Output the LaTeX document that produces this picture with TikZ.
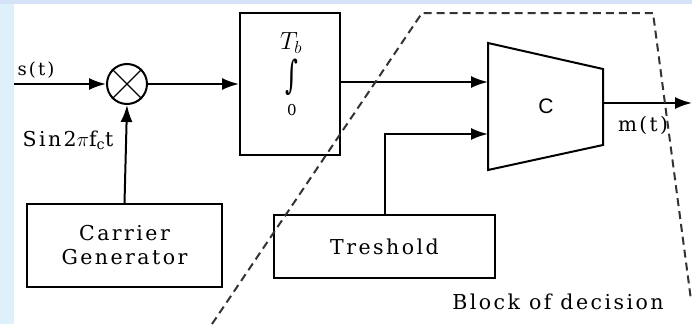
\documentclass[tikz,border=0pt]{standalone}
\usepackage{fontspec}
\setmainfont[LetterSpace=12]{DejaVu Serif}
\newfontfamily\arialfont{Liberation Sans}
\newfontfamily\intfont{DejaVu Serif}
\usetikzlibrary{arrows.meta}
\definecolor{edgeblue}{RGB}{222,240,250}
\definecolor{topblue}{RGB}{214,226,248}

\begin{document}
\begin{tikzpicture}[
    x=1pt, y=-1pt,
    every node/.style={font=\fontsize{20.5}{24}\selectfont},
    block/.style={draw, line width=2pt, inner sep=0pt, align=center},
    mixer/.style={circle, draw, line width=2pt, minimum size=40pt, inner sep=0pt},
    wire/.style={line width=2pt, -{Latex[length=17pt, width=12pt]}},
    plain/.style={line width=2pt},
    border/.style={line width=2pt, dash pattern=on 8pt off 5pt, black!80},
    lbl/.style={inner sep=0pt},
]
\useasboundingbox (0,0) rectangle (692,324);
% faint page tint
\fill[edgeblue] (0,0) rectangle (14,324);
\fill[topblue] (0,0) rectangle (692,4);

% blocks
\node[mixer] (mix) at (127,84) {};
\draw[line width=1.4pt] (mix.north west) -- (mix.south east)
    (mix.north east) -- (mix.south west);
\node[block, minimum width=100pt, minimum height=142pt] (intg) at (290,84) {};
\node[lbl] (tb) at (291,43) {\fontsize{26}{28}\selectfont$T_b$};
\node[lbl] (isign) at (292,77) {\intfont\scalebox{1.2}[1.9]{∫}};
\node[lbl] (lowlim) at (292,110) {\fontsize{15}{18}\selectfont 0};
\node[block, minimum width=195pt, minimum height=83pt] (car) at (124.5,245.5)
    {Carrier\\Generator};
\node[block, minimum width=221pt, minimum height=63pt] (thr) at (384.5,246.5) {Treshold};

% comparator
\draw[plain] (488,43) -- (603,69) -- (603,145) -- (488,170) -- cycle;
\node[lbl] (cmp) at (546,106) {\arialfont\fontsize{21}{22}\selectfont C};
\coordinate (in1) at (488,82);
\coordinate (in2) at (488,134);
\coordinate (cout) at (603,103);
\coordinate (sig) at (14,84);
\coordinate (mout) at (692,103);

% connectors
\draw[wire] (sig) -- (mix.west);
\draw[wire] (mix.east) -- (intg.west);
\draw[wire] (car.north) -- (mix.south);
\draw[wire] (intg.east |- in1) -- (in1);
\draw[wire] (thr.north) |- (in2);
\draw[wire] (cout) -- (mout);

% labels
\node[lbl] (st) at (36,70) {\fontsize{18}{20}\selectfont s(t)};
\node[lbl] (sinl) at (68,140) {Sin2$\pi$f\textsubscript{c}t};
\node[lbl] (mt) at (643,125) {\fontsize{20}{22}\selectfont m(t)};
\node[lbl] (dec) at (558,302) {Block of decision};

% decision region
\draw[border] (212,324) -- (422,13) -- (653,13) -- (691,300);
\end{tikzpicture}
\end{document}
